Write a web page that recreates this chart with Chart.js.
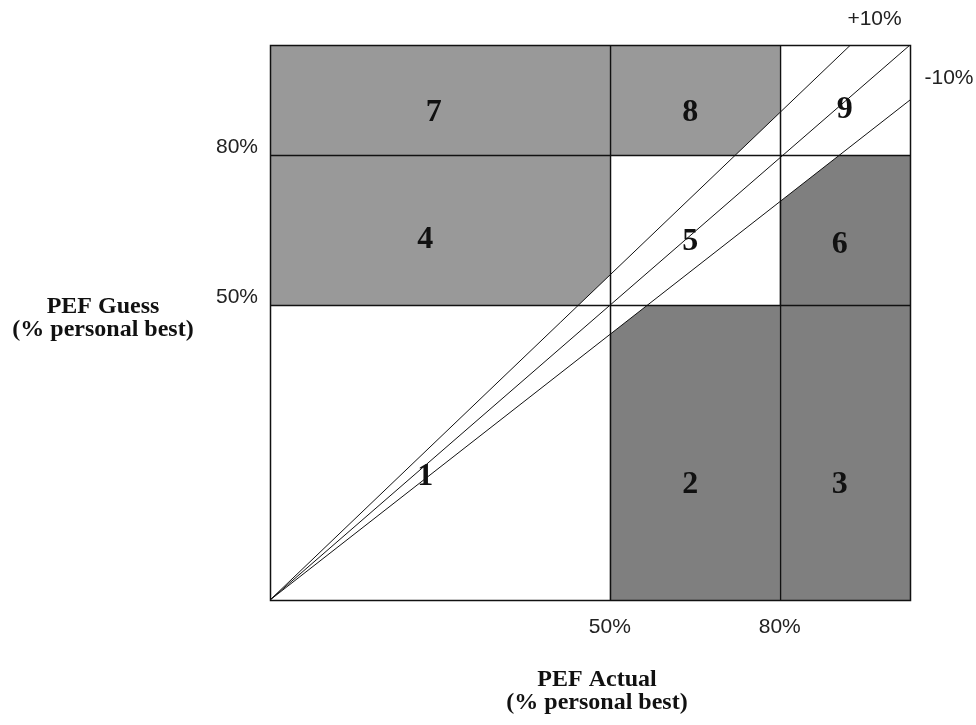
<!DOCTYPE html>
<html>
<head>
<meta charset="utf-8">
<script src="https://cdn.jsdelivr.net/npm/chart.js@4"></script>
<style>
  body { margin: 0; background: #fff; }
</style>
</head>
<body>
<canvas id="pefchart" width="976" height="725"></canvas>
<script>
// cut-offs (% personal best) on both axes
var xEdges = [50, 80];
var yEdges = [50, 80];
var tickLabels = ['50%', '80%'];
// axis span of the schematic square
var xRange = [-10, 103];
var yRange = [-9, 102];

// the three diagonal lines: agreement, +10% and -10%
var lineMid = [{x: -10, y: -9}, {x: 103, y: 102}];
var linePlus = [{x: -10, y: -9}, {x: 92.5, y: 102}];
var lineMinus = [{x: -10, y: -9}, {x: 103, y: 91}];
var bandLabels = ['+10%', '-10%'];

// zone numbers and where they sit
var zoneNames = ['1', '2', '3', '4', '5', '6', '7', '8', '9'];
var zoneX = [17.4, 64.2, 90.6, 17.4, 64.2, 90.6, 18.9, 64.2, 91.5];
var zoneY = [15.6, 14, 14, 63, 62.6, 62, 88.4, 88.4, 89];
var overZones = [4, 7, 8];   // guess above +10% line
var underZones = [2, 3, 6];  // guess below -10% line

var xTitle = ['PEF Actual', '(% personal best)'];
var yTitle = ['PEF Guess', '(% personal best)'];

var ctx = document.getElementById('pefchart').getContext('2d');

function cellBox(n) {
    var xs = [xRange[0]].concat(xEdges, [xRange[1]]);
    var ys = [yRange[0]].concat(yEdges, [yRange[1]]);
    var c = (n - 1) % 3, r = Math.floor((n - 1) / 3);
    return {x0: xs[c], x1: xs[c + 1], y0: ys[r], y1: ys[r + 1]};
}

function fillZones(chart, zones, line, corner, color) {
    var c = chart.ctx, xs = chart.scales.x, ys = chart.scales.y;
    c.save();
    c.beginPath();
    c.moveTo(xs.getPixelForValue(line[0].x), ys.getPixelForValue(line[0].y));
    c.lineTo(xs.getPixelForValue(line[1].x), ys.getPixelForValue(line[1].y));
    c.lineTo(xs.getPixelForValue(corner.x), ys.getPixelForValue(corner.y));
    c.closePath();
    c.clip();
    c.fillStyle = color;
    zones.forEach(function(n) {
        var b = cellBox(n);
        var px0 = xs.getPixelForValue(b.x0), px1 = xs.getPixelForValue(b.x1);
        var py0 = ys.getPixelForValue(b.y0), py1 = ys.getPixelForValue(b.y1);
        c.fillRect(px0, py1, px1 - px0, py0 - py1);
    });
    c.restore();
}

var zonePlugin = {
    id: 'zones',
    beforeDatasetsDraw: function(chart) {
        var c = chart.ctx, xs = chart.scales.x, ys = chart.scales.y, a = chart.chartArea;
        fillZones(chart, overZones, linePlus, {x: xRange[0], y: yRange[1]}, '#999999');
        fillZones(chart, underZones, lineMinus, {x: xRange[1], y: yRange[0]}, '#7f7f7f');

        c.save();
        c.strokeStyle = '#111';
        c.lineWidth = 1.5;
        c.beginPath();
        xEdges.forEach(function(v) {
            var px = Math.round(xs.getPixelForValue(v)) + 0.5;
            c.moveTo(px, a.top); c.lineTo(px, a.bottom);
        });
        yEdges.forEach(function(v) {
            var py = Math.round(ys.getPixelForValue(v)) + 0.5;
            c.moveTo(a.left, py); c.lineTo(a.right, py);
        });
        c.stroke();
        c.strokeRect(a.left + 0.5, a.top + 0.5, a.right - a.left, a.bottom - a.top);
        c.restore();
    },
    afterDraw: function(chart) {
        var c = chart.ctx, xs = chart.scales.x, ys = chart.scales.y, a = chart.chartArea;
        c.save();
        c.fillStyle = '#111';

        // zone numbers
        c.font = 'bold 32px "Liberation Serif"';
        c.textAlign = 'center';
        c.textBaseline = 'middle';
        zoneNames.forEach(function(t, i) {
            c.fillText(t, xs.getPixelForValue(zoneX[i]), ys.getPixelForValue(zoneY[i]));
        });

        // tick labels
        c.font = '21px "Liberation Sans"';
        c.fillStyle = '#222';
        xEdges.forEach(function(v, i) {
            c.textAlign = 'center';
            c.fillText(tickLabels[i], xs.getPixelForValue(v), a.bottom + 27);
        });
        yEdges.forEach(function(v, i) {
            c.textAlign = 'right';
            c.fillText(tickLabels[i], a.left - 12, ys.getPixelForValue(v) - 8);
        });

        // +10% / -10% labels near the line ends
        c.textAlign = 'center';
        c.fillText(bandLabels[0], xs.getPixelForValue(linePlus[1].x) + 24, ys.getPixelForValue(linePlus[1].y) - 26);
        c.fillText(bandLabels[1], xs.getPixelForValue(lineMinus[1].x) + 39, ys.getPixelForValue(lineMinus[1].y) - 22);

        // axis titles
        c.font = 'bold 24px "Liberation Serif"';
        c.fillStyle = '#111';
        c.fillText(xTitle[0], 597, 680);
        c.fillText(xTitle[1], 597, 703);
        c.fillText(yTitle[0], 103, 307);
        c.fillText(yTitle[1], 103, 330);
        c.restore();
    }
};

var pefchart = new Chart(ctx, {
    type: 'scatter',
    data: {
        datasets: [linePlus, lineMid, lineMinus].map(function(pts) {
            return {
                data: pts,
                showLine: true,
                borderColor: '#111',
                borderWidth: 1,
                pointRadius: 0
            };
        })
    },
    options: {
        responsive: false,
        animation: false,
        layout: {padding: {left: 270, right: 66, top: 45, bottom: 125}},
        plugins: {legend: {display: false}, tooltip: {enabled: false}},
        scales: {
            x: {type: 'linear', min: xRange[0], max: xRange[1], display: false},
            y: {type: 'linear', min: yRange[0], max: yRange[1], display: false}
        }
    },
    plugins: [zonePlugin]
});
</script>
</body>
</html>
